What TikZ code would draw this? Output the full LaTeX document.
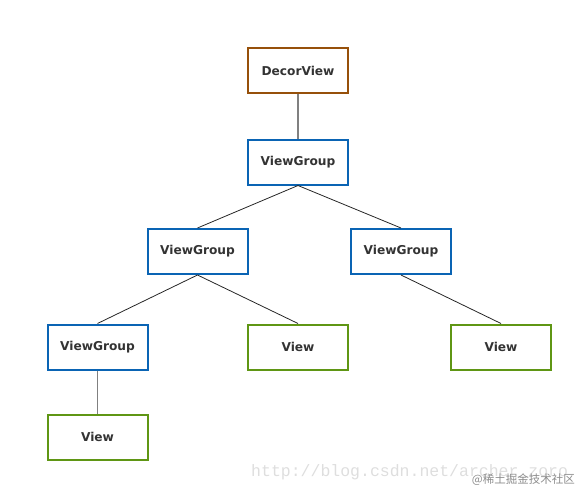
\documentclass[tikz,border=0pt]{standalone}
\usepackage{fontspec}
\setmainfont{DejaVu Sans}
\newfontfamily\cjkfont{Noto Sans CJK SC}
\newfontfamily\wmfont{Liberation Mono}
\definecolor{brownc}{RGB}{150,80,10}
\definecolor{bluec}{RGB}{10,100,180}
\definecolor{greenc}{RGB}{95,150,20}
\definecolor{textc}{RGB}{51,51,51}
\begin{document}
\begin{tikzpicture}[x=1pt,y=-1pt,
  box/.style={draw,line width=2pt,minimum width=100pt,minimum height=45pt,inner sep=0pt,
    font=\fontsize{12.2}{15}\selectfont\bfseries,text=textc,fill=white},
  decor/.style={box,draw=brownc},
  grp/.style={box,draw=bluec},
  leaf/.style={box,draw=greenc},
  vline/.style={draw=gray,line width=1.5pt},
  dline/.style={draw=black!85,line width=0.8pt}]
\useasboundingbox (0,0) rectangle (583,492);
\node[decor] (dv) at (298,70.5) {DecorView};
\node[grp] (vg) at (298,162) {ViewGroup};
\node[grp] (vgl) at (197.5,251.5) {ViewGroup};
\node[grp] (vgr) at (401,251.5) {ViewGroup};
\node[grp] (vgll) at (97.5,347) {ViewGroup};
\node[leaf] (vm) at (298,347) {View};
\node[leaf] (vr) at (501,347) {View};
\node[leaf] (vb) at (97.5,437) {View};
\draw[vline] (dv.south) -- (vg.north);
\draw[dline] (vg.south) -- (vgl.north);
\draw[dline] (vg.south) -- (vgr.north);
\draw[dline] (vgl.south) -- (vgll.north);
\draw[dline] (vgl.south) -- (vm.north);
\draw[dline] (vgr.south) -- (vr.north);
\draw[vline] (vgll.south) -- (vb.north);
\node[anchor=base west,inner sep=0pt,text=black!13,font=\wmfont\fontsize{16.5}{18}\selectfont] (wm) at (251,476) {http://blog.csdn.net/archer\_zoro};
\node[anchor=base east,inner sep=0pt,text=black!45,font=\cjkfont\fontsize{11.5}{13}\selectfont] (wm2) at (575,483) {@稀土掘金技术社区};
\end{tikzpicture}
\end{document}
